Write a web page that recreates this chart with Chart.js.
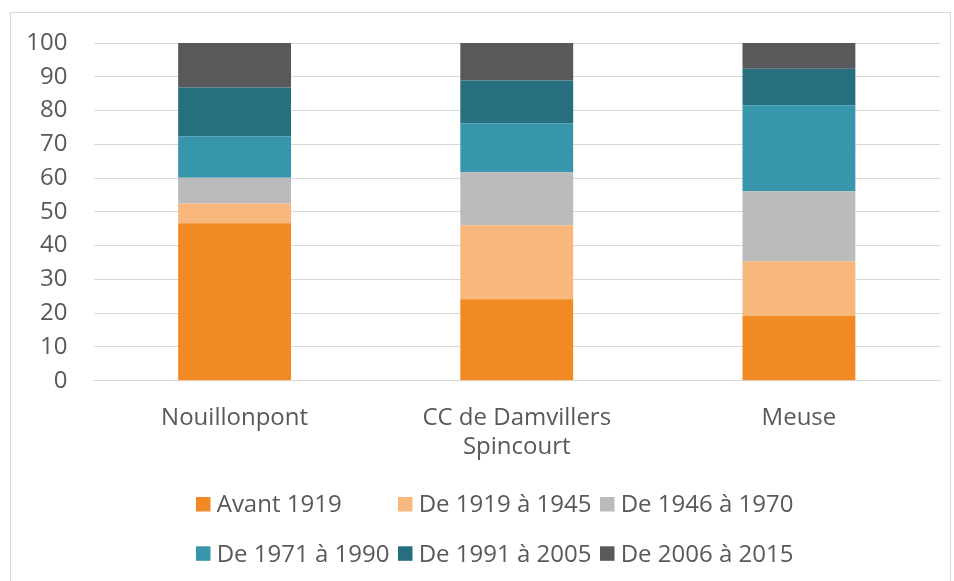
<!DOCTYPE html>
<html>
<head>
<meta charset="utf-8">
<script src="https://cdn.jsdelivr.net/npm/chart.js@4/dist/chart.umd.min.js"></script>
<style>
    body{ margin:0; background:#fff; }
    .cadre{ position:absolute; left:10px; top:12px; width:941px; height:580px; border:1px solid #d9d9d9; box-sizing:border-box; }
    .chart-container{ position:absolute; left:0; top:0; width:954px; height:581px; }
</style>
</head>
<body>
<div class="cadre"></div>
<div class="chart-container">
    <canvas id="myChart"></canvas>
</div>
<script>
// données
var categories = ['Nouillonpont', ['CC de Damvillers', 'Spincourt'], 'Meuse'];
var periodes = ['Avant 1919', 'De 1919 à 1945', 'De 1946 à 1970', 'De 1971 à 1990', 'De 1991 à 2005', 'De 2006 à 2015'];
var avant1919 = [46.6, 24.1, 19.2];
var de1919a1945 = [5.9, 21.9, 16.2];
var de1946a1970 = [7.6, 15.7, 20.7];
var de1971a1990 = [12.3, 14.5, 25.5];
var de1991a2005 = [14.4, 12.7, 10.8];
var de2006a2015 = [13.2, 11.1, 7.6];
var yTicks = [0, 10, 20, 30, 40, 50, 60, 70, 80, 90, 100];

var couleurs = ['#f28a24', '#f7b77d', '#bbbbbd', '#3795ac', '#276e7f', '#59585a'];
var series = [avant1919, de1919a1945, de1946a1970, de1971a1990, de1991a2005, de2006a2015];

var datasets = series.map(function(s, i){
    return {
        label: periodes[i],
        data: s,
        backgroundColor: couleurs[i],
        borderWidth: 0,
        barPercentage: 0.4,
        categoryPercentage: 1
    };
});

// légende dessinée à la main (grille 3 colonnes)
var legendePlugin = {
    id: 'legende',
    afterDraw: function(chart){
        var ctx = chart.ctx;
        var colX = [196, 398, 600];
        var rowY = [505.5, 554.8];
        ctx.save();
        ctx.font = '24px "Open Sans"';
        ctx.textBaseline = 'middle';
        chart.data.datasets.forEach(function(ds, i){
            var x = colX[i % 3];
            var y = rowY[Math.floor(i / 3)];
            ctx.fillStyle = ds.backgroundColor;
            ctx.fillRect(x, y - 8.5, 14.5, 14.5);
            ctx.fillStyle = '#595959';
            ctx.fillText(ds.label, x + 20.7, y);
        });
        ctx.restore();
    }
};

var ctx = document.getElementById('myChart');
var myChart = new Chart(ctx, {
    type: 'bar',
    data: {
        labels: categories,
        datasets: datasets
    },
    plugins: [legendePlugin],
    options: {
        responsive: true,
        maintainAspectRatio: false,
        animation: false,
        layout: {
            padding: { top: 43, right: 14, bottom: 0, left: 0 }
        },
        plugins: {
            legend: { display: false },
            tooltip: { enabled: false }
        },
        scales: {
            x: {
                stacked: true,
                grid: { display: false, drawTicks: false },
                border: { color: '#d9d9d9' },
                ticks: {
                    color: '#595959',
                    padding: 23,
                    font: { family: 'Open Sans', size: 24, lineHeight: 1.2 },
                    maxRotation: 0
                },
                afterFit: function(scale){ scale.height = 200.3; }
            },
            y: {
                stacked: true,
                min: 0,
                max: 100,
                afterBuildTicks: function(scale){
                    scale.ticks = yTicks.map(function(v){ return { value: v }; });
                },
                grid: { color: '#d9d9d9', drawTicks: false },
                border: { display: false },
                ticks: {
                    color: '#595959',
                    padding: 26,
                    font: { family: 'Open Sans', size: 24 }
                },
                afterFit: function(scale){ scale.width = 93.5; }
            }
        }
    }
});
</script>
</body>
</html>
